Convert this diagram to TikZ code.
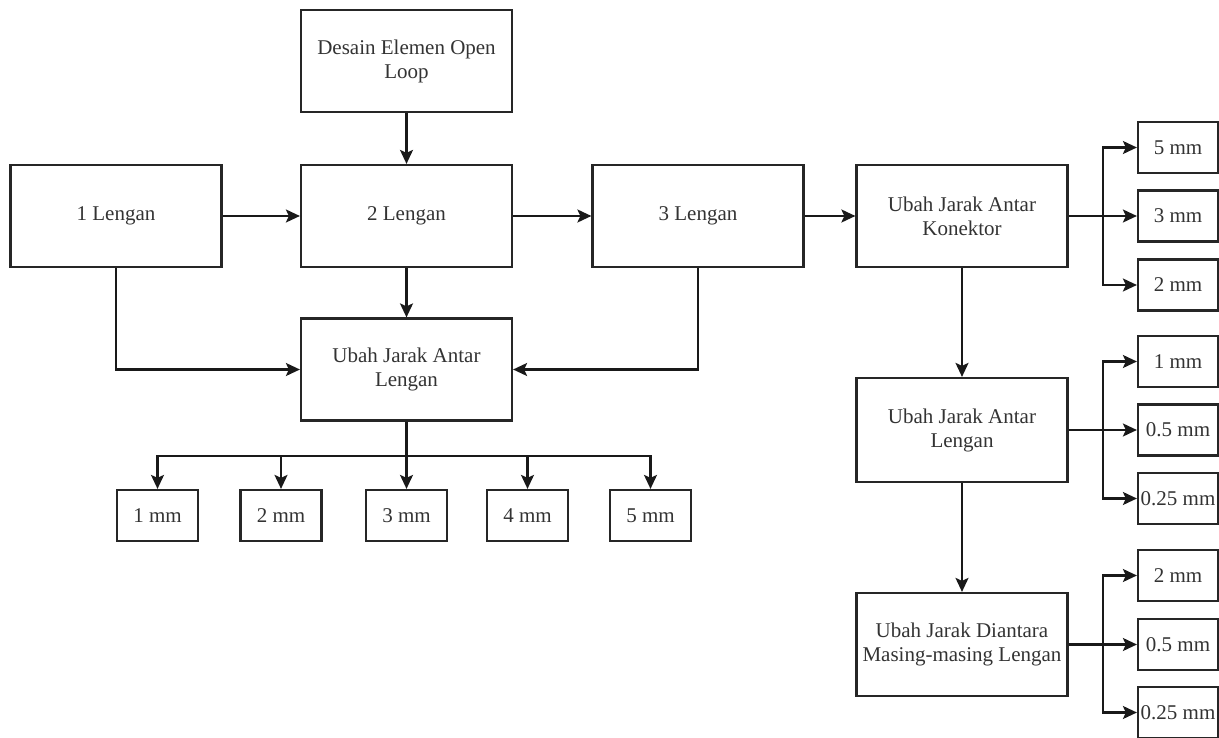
\documentclass[tikz,border=0pt]{standalone}
\usepackage{fontspec}
\setmainfont{Liberation Serif}
\usetikzlibrary{arrows.meta}
\begin{document}
\begin{tikzpicture}[x=1pt,y=-1pt,
  box/.style={draw=black!85, line width=2.2pt, minimum width=211pt, minimum height=102pt,
    inner sep=0pt, align=center, font=\fontsize{21}{24}\selectfont, text=black!80},
  sbox/.style={draw=black!85, line width=2.2pt, minimum width=81pt, minimum height=51pt,
    inner sep=0pt, align=center, font=\fontsize{21}{24}\selectfont, text=black!80},
  arr/.style={draw=black!90, line width=2.2pt, -{Stealth[length=14pt,width=13pt,inset=3pt]}},
  ln/.style={draw=black!90, line width=2.2pt}]
\useasboundingbox (0,0) rectangle (1219,738);
% main boxes
\node[box] (desain) at (406.5,61) {Desain Elemen Open\\Loop};
\node[box] (l1) at (116,216) {1 Lengan};
\node[box] (l2) at (406.5,216) {2 Lengan};
\node[box] (l3) at (698,216) {3 Lengan};
\node[box] (ujk) at (962,216) {Ubah Jarak Antar\\Konektor};
\node[box] (ujl) at (406.5,369.5) {Ubah Jarak Antar\\Lengan};
\node[box, minimum height=104pt] (ujl2) at (962,430) {Ubah Jarak Antar\\Lengan};
\node[box, minimum height=103pt] (udm) at (962,644.5) {Ubah Jarak Diantara\\Masing-masing Lengan};
% bottom small boxes
\node[sbox] (b1) at (157.5,515.5) {1 mm};
\node[sbox] (b2) at (281,515.5) {2 mm};
\node[sbox] (b3) at (406.5,515.5) {3 mm};
\node[sbox] (b4) at (527.5,515.5) {4 mm};
\node[sbox] (b5) at (650.5,515.5) {5 mm};
% right small boxes
\node[sbox, minimum width=80pt] (r1) at (1178,147.5) {5 mm};
\node[sbox, minimum width=80pt] (r2) at (1178,216) {3 mm};
\node[sbox, minimum width=80pt] (r3) at (1178,285) {2 mm};
\node[sbox, minimum width=80pt] (r4) at (1178,361.5) {1 mm};
\node[sbox, minimum width=80pt] (r5) at (1178,430) {0.5 mm};
\node[sbox, minimum width=80pt] (r6) at (1178,498.5) {0.25 mm};
\node[sbox, minimum width=80pt] (r7) at (1178,575.5) {2 mm};
\node[sbox, minimum width=80pt] (r8) at (1178,644.5) {0.5 mm};
\node[sbox, minimum width=80pt] (r9) at (1178,712.5) {0.25 mm};
% connectors
\draw[arr] (desain.south) -- (l2.north);
\draw[arr] (l1.east) -- (l2.west);
\draw[arr] (l2.east) -- (l3.west);
\draw[arr] (l3.east) -- (ujk.west);
\draw[arr] (l2.south) -- (ujl.north);
\draw[arr] (l1.south) |- (ujl.west);
\draw[arr] (l3.south) |- (ujl.east);
\coordinate (bus) at (406.5,456);
\draw[arr] (ujl.south) -- (b3.north);
\draw[arr] (bus) -| (b1.north);
\draw[arr] (bus) -| (b2.north);
\draw[arr] (bus) -| (b4.north);
\draw[arr] (bus) -| (b5.north);
\draw[arr] (ujk.south) -- (ujl2.north);
\draw[arr] (ujl2.south) -- (udm.north);
% right branches
\coordinate (j1) at (1103,216);
\coordinate (j2) at (1103,430);
\coordinate (j3) at (1103,644.5);
\draw[arr] (ujk.east) -- (r2.west);
\draw[arr] (j1) |- (r1.west);
\draw[arr] (j1) |- (r3.west);
\draw[arr] (ujl2.east) -- (r5.west);
\draw[arr] (j2) |- (r4.west);
\draw[arr] (j2) |- (r6.west);
\draw[arr] (udm.east) -- (r8.west);
\draw[arr] (j3) |- (r7.west);
\draw[arr] (j3) |- (r9.west);
\end{tikzpicture}
\end{document}
